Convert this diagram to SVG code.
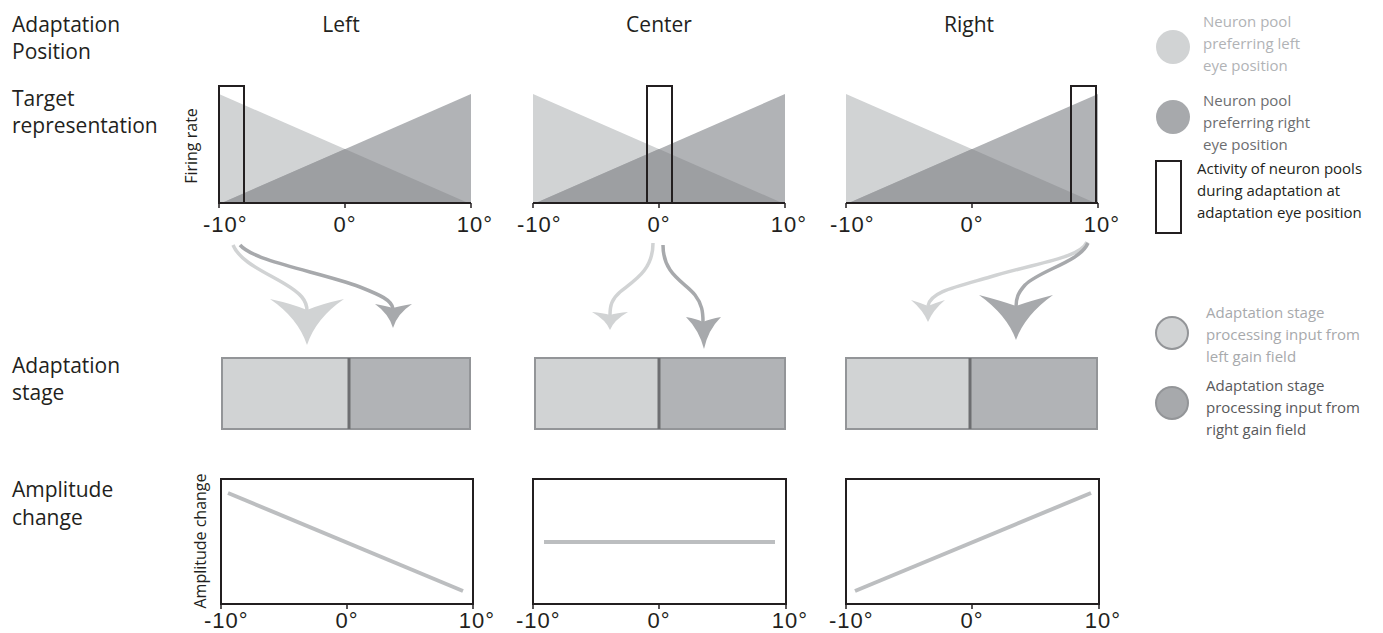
<svg xmlns="http://www.w3.org/2000/svg" width="1383" height="633" viewBox="0 0 1383 633">
<style>
.lbl{font-family:"Open Sans","Noto Sans",sans-serif;font-size:21px;fill:#231f20}
.tick{font-family:"Liberation Sans",Arial,sans-serif;font-size:22px;fill:#231f20;letter-spacing:1px}
.ax{font-family:"Open Sans","Noto Sans",sans-serif;font-size:16px;fill:#231f20}
.leg{font-family:"Open Sans","Noto Sans",sans-serif;font-size:15px}
.lt{fill:#d1d3d4}.dk{fill:#b1b3b6}.ov{fill:#9d9fa2}
.axis{stroke:#231f20;stroke-width:2.2;fill:none}
.tk{stroke:#231f20;stroke-width:1.5}
.act{fill:none;stroke:#231f20;stroke-width:2}
.stL{fill:#d1d3d4;stroke:#939598;stroke-width:2}
.stR{fill:#b1b3b6;stroke:#939598;stroke-width:2}
.div{stroke:#6d6e71;stroke-width:3}
.amp{fill:none;stroke:#231f20;stroke-width:2}
.aline{stroke:#bcbec0;stroke-width:4;stroke-linecap:butt}
.cL{fill:none;stroke:#d1d3d4;stroke-width:3.5}
.cD{fill:none;stroke:#a7a9ac;stroke-width:3.5}
.hL{fill:#d1d3d4}.hD{fill:#a7a9ac}
</style>
<rect width="1383" height="633" fill="#ffffff"/>

<g id="row-labels">
<text class="lbl" x="12" y="32">Adaptation</text>
<text class="lbl" x="12" y="59">Position</text>
<text class="lbl" x="12" y="106">Target</text>
<text class="lbl" x="12" y="133">representation</text>
<text class="lbl" x="12" y="373">Adaptation</text>
<text class="lbl" x="12" y="400">stage</text>
<text class="lbl" x="12" y="497">Amplitude</text>
<text class="lbl" x="12" y="525">change</text>
</g>

<g id="col-labels">
<text class="lbl" x="341" y="32" text-anchor="middle">Left</text>
<text class="lbl" x="659" y="32" text-anchor="middle">Center</text>
<text class="lbl" x="969" y="32" text-anchor="middle">Right</text>
</g>

<text class="ax" transform="translate(197,146) rotate(-90)" text-anchor="middle">Firing rate</text>
<text class="ax" transform="translate(206,541) rotate(-90)" text-anchor="middle">Amplitude change</text>

<!-- Firing rate panels -->
<g id="fr-left" transform="translate(219,0)">
<polygon class="lt" points="0,94 0,202 247,202"/>
<polygon class="dk" points="5,202 252,94 252,202"/>
<polygon class="ov" points="5,202 126,149 247,202"/>
<rect class="act" x="0" y="86" width="25" height="117"/>
<line class="axis" x1="0" y1="203" x2="252" y2="203"/>
<line class="tk" x1="0" y1="203" x2="0" y2="208"/><line class="tk" x1="126" y1="203" x2="126" y2="208"/><line class="tk" x1="252" y1="203" x2="252" y2="208"/>
<text class="tick" x="-16" y="232">-10°</text>
<text class="tick" x="126" y="232" text-anchor="middle">0°</text>
<text class="tick" x="256" y="232" text-anchor="middle">10°</text>
</g>
<g id="fr-center" transform="translate(533,0)">
<polygon class="lt" points="0,94 0,202 247,202"/>
<polygon class="dk" points="5,202 252,94 252,202"/>
<polygon class="ov" points="5,202 126,149 247,202"/>
<rect class="act" x="114" y="86" width="25" height="117"/>
<line class="axis" x1="0" y1="203" x2="252" y2="203"/>
<line class="tk" x1="0" y1="203" x2="0" y2="208"/><line class="tk" x1="126" y1="203" x2="126" y2="208"/><line class="tk" x1="252" y1="203" x2="252" y2="208"/>
<text class="tick" x="-16" y="232">-10°</text>
<text class="tick" x="126" y="232" text-anchor="middle">0°</text>
<text class="tick" x="256" y="232" text-anchor="middle">10°</text>
</g>
<g id="fr-right" transform="translate(846,0)">
<polygon class="lt" points="0,94 0,202 247,202"/>
<polygon class="dk" points="5,202 252,94 252,202"/>
<polygon class="ov" points="5,202 126,149 247,202"/>
<rect class="act" x="225" y="86" width="25" height="117"/>
<line class="axis" x1="0" y1="203" x2="252" y2="203"/>
<line class="tk" x1="0" y1="203" x2="0" y2="208"/><line class="tk" x1="126" y1="203" x2="126" y2="208"/><line class="tk" x1="252" y1="203" x2="252" y2="208"/>
<text class="tick" x="-16" y="232">-10°</text>
<text class="tick" x="126" y="232" text-anchor="middle">0°</text>
<text class="tick" x="256" y="232" text-anchor="middle">10°</text>
</g>

<!-- Connectors -->
<g id="connectors">
<path class="cL" d="M233,245 C240,262 265,272 285,284 C300,293 307,300 307,311"/>
<path class="hL" d="M270,299 Q293,304 307,310 Q321,304 344,299 Q316,318 307,345 Q298,318 270,299 Z"/>
<path class="cD" d="M240,245 C255,262 320,272 360,287 C380,295 392,300 393,309"/>
<path class="hD" d="M375,304 Q386,306 393,308 Q400,306 412,304 Q397,314 393,328 Q389,314 375,304 Z"/>

<path class="cL" d="M653,243 C653,270 635,280 620,292 C612,299 610,305 610,315"/>
<path class="hL" d="M592,312 Q603,313 610,315 Q617,313 628,312 Q614,320 610,330 Q606,320 592,312 Z"/>
<path class="cD" d="M663,245 C663,275 685,282 695,295 C702,304 703,312 703,322"/>
<path class="hD" d="M686,317 Q697,319 703,322 Q710,319 721,317 Q708,330 704,349 Q699,330 686,317 Z"/>

<path class="cL" d="M1087,242 C1080,258 1040,262 990,277 C955,287 930,292 928,306"/>
<path class="hL" d="M911,300 Q921,303 928,306 Q935,303 945,300 Q933,310 928,322 Q923,310 911,300 Z"/>
<path class="cD" d="M1088,243 C1080,262 1040,270 1025,285 C1018,293 1016,298 1016,307"/>
<path class="hD" d="M979,295 Q1002,301 1016,306 Q1030,301 1053,295 Q1025,315 1016,340 Q1007,315 979,295 Z"/>
</g>

<!-- Adaptation stage -->
<g id="stage-left" transform="translate(219,0)">
<rect class="stL" x="3" y="358" width="127" height="71"/>
<rect class="stR" x="130" y="358" width="121" height="71"/>
<line class="div" x1="130" y1="358" x2="130" y2="429"/>
</g>
<g id="stage-center" transform="translate(533,0)">
<rect class="stL" x="2" y="358" width="124" height="71"/>
<rect class="stR" x="126" y="358" width="126" height="71"/>
<line class="div" x1="126" y1="358" x2="126" y2="429"/>
</g>
<g id="stage-right" transform="translate(846,0)">
<rect class="stL" x="0" y="358" width="124" height="71"/>
<rect class="stR" x="124" y="358" width="127" height="71"/>
<line class="div" x1="124" y1="358" x2="124" y2="429"/>
</g>

<!-- Amplitude change -->
<g id="amp-left" transform="translate(220,0)">
<rect class="amp" x="1" y="479" width="252" height="125"/>
<line class="tk" x1="1" y1="604" x2="1" y2="609"/><line class="tk" x1="127" y1="604" x2="127" y2="609"/><line class="tk" x1="253" y1="604" x2="253" y2="609"/>
<line class="aline" x1="8" y1="493" x2="243" y2="591"/>
<text class="tick" x="-16" y="628">-10°</text>
<text class="tick" x="127" y="628" text-anchor="middle">0°</text>
<text class="tick" x="257" y="628" text-anchor="middle">10°</text>
</g>
<g id="amp-center" transform="translate(532,0)">
<rect class="amp" x="1" y="479" width="253" height="125"/>
<line class="tk" x1="1" y1="604" x2="1" y2="609"/><line class="tk" x1="127" y1="604" x2="127" y2="609"/><line class="tk" x1="254" y1="604" x2="254" y2="609"/>
<line class="aline" x1="12" y1="542" x2="243" y2="542"/>
<text class="tick" x="-16" y="628">-10°</text>
<text class="tick" x="127" y="628" text-anchor="middle">0°</text>
<text class="tick" x="258" y="628" text-anchor="middle">10°</text>
</g>
<g id="amp-right" transform="translate(845,0)">
<rect class="amp" x="1" y="479" width="253" height="125"/>
<line class="tk" x1="1" y1="604" x2="1" y2="609"/><line class="tk" x1="127" y1="604" x2="127" y2="609"/><line class="tk" x1="254" y1="604" x2="254" y2="609"/>
<line class="aline" x1="10" y1="591" x2="246" y2="493"/>
<text class="tick" x="-16" y="628">-10°</text>
<text class="tick" x="127" y="628" text-anchor="middle">0°</text>
<text class="tick" x="258" y="628" text-anchor="middle">10°</text>
</g>

<!-- Legend -->
<g id="legend-left-pool">
<circle cx="1173" cy="47" r="17" fill="#d1d3d4"/>
<text class="leg" x="1203" y="27" fill="#b1b3b6">Neuron pool</text>
<text class="leg" x="1203" y="49" fill="#b1b3b6">preferring left</text>
<text class="leg" x="1203" y="71" fill="#b1b3b6">eye position</text>
</g>
<g id="legend-right-pool">
<circle cx="1173" cy="117" r="17" fill="#a7a9ac"/>
<text class="leg" x="1203" y="106" fill="#6d6e71">Neuron pool</text>
<text class="leg" x="1203" y="128" fill="#6d6e71">preferring right</text>
<text class="leg" x="1203" y="150" fill="#6d6e71">eye position</text>
</g>
<g id="legend-activity">
<rect x="1156" y="161" width="25" height="72" fill="none" stroke="#231f20" stroke-width="2"/>
<text class="leg" x="1197" y="174" fill="#231f20">Activity of neuron pools</text>
<text class="leg" x="1197" y="196" fill="#231f20">during adaptation at</text>
<text class="leg" x="1197" y="218" fill="#231f20">adaptation eye position</text>
</g>
<g id="legend-stage-left">
<circle cx="1172" cy="333" r="16" fill="#d1d3d4" stroke="#939598" stroke-width="2"/>
<text class="leg" x="1206" y="318" fill="#a7a9ac">Adaptation stage</text>
<text class="leg" x="1206" y="340" fill="#a7a9ac">processing input from</text>
<text class="leg" x="1206" y="362" fill="#a7a9ac">left gain field</text>
</g>
<g id="legend-stage-right">
<circle cx="1172" cy="403" r="16" fill="#a7a9ac" stroke="#939598" stroke-width="2"/>
<text class="leg" x="1206" y="391" fill="#58595b">Adaptation stage</text>
<text class="leg" x="1206" y="413" fill="#58595b">processing input from</text>
<text class="leg" x="1206" y="435" fill="#58595b">right gain field</text>
</g>
</svg>
